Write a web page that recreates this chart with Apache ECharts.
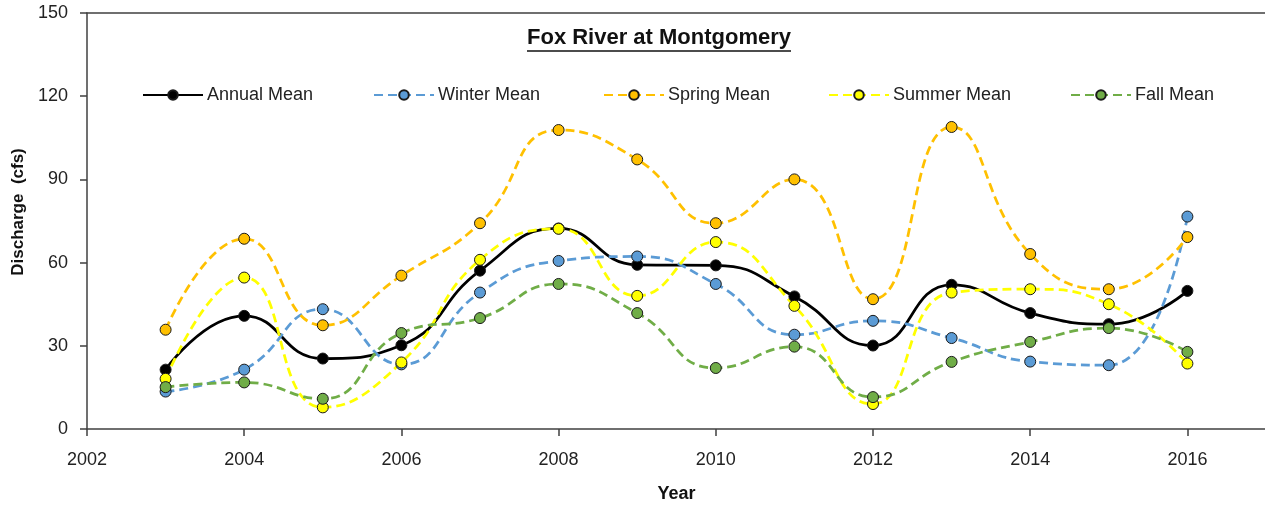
<!DOCTYPE html>
<html>
<head>
<meta charset="utf-8">
<script src="https://cdn.jsdelivr.net/npm/echarts@6/dist/echarts.min.js"></script>
<style>
html,body{margin:0;padding:0;background:#fff;}
#chart{width:1265px;height:508px;}
</style>
</head>
<body>
<div id="chart"></div>
<script>
//年份
var years=[2003,2004,2005,2006,2007,2008,2009,2010,2011,2012,2013,2014,2015,2016];
//各序列数值（cfs）
var annualMean=[21.4,40.8,25.4,30.2,57.1,72.3,59.2,59.0,47.8,30.1,52.0,41.8,37.8,49.8];
var winterMean=[13.5,21.4,43.2,23.3,49.2,60.6,62.2,52.3,34.0,39.0,32.8,24.3,23.0,76.6];
var springMean=[35.8,68.6,37.4,55.3,74.2,107.8,97.2,74.2,90.0,46.8,108.9,63.1,50.4,69.2];
var summerMean=[18.1,54.6,7.8,24.0,61.0,72.2,48.0,67.4,44.4,9.0,49.2,50.4,45.0,23.6];
var fallMean=[15.1,16.8,10.9,34.6,40.0,52.3,41.8,22.0,29.7,11.5,24.2,31.4,36.4,27.8];
var seriesNames=['Annual Mean','Winter Mean','Spring Mean','Summer Mean','Fall Mean'];
var seriesColors=['#000000','#5B9BD5','#FFC000','#FFFF00','#70AD47'];
var xTicks=[2002,2004,2006,2008,2010,2012,2014,2016];
var yTicks=[0,30,60,90,120,150];

var font='"Liberation Sans", Arial, sans-serif';

function pairs(vals){
	var out=[];
	for(var i=0;i<years.length;i++){
		out.push([years[i],vals[i]]);
	}
	return out;
}

function makeSeries(idx,vals){
	var solid=(idx==0);
	return {
		name:seriesNames[idx],
		type:'line',
		smooth:0.5,
		data:pairs(vals),
		symbol:'circle',
		symbolSize:11,
		color:seriesColors[idx],
		lineStyle:{
			color:seriesColors[idx],
			width:2.75,
			type:solid?'solid':[9,5]
		},
		itemStyle:{
			color:seriesColors[idx],
			borderColor:'#1a1a1a',
			borderWidth:1
		},
		emphasis:{disabled:true}
	};
}

//图例位置（每项单独一个legend）
var legendLeft=[142,373,603,828,1070];
var legends=[];
for(var i=0;i<seriesNames.length;i++){
	legends.push({
		data:[seriesNames[i]],
		left:legendLeft[i],
		top:86,
		padding:0,
		itemWidth:60,
		itemHeight:12,
		itemGap:0,
		selectedMode:false,
		textStyle:{fontFamily:font,fontSize:18,color:'#222',padding:[0,0,0,-1]}
	});
}

var axisColor='#404040';
var myChart=echarts.init(document.getElementById('chart'));
var option={
	animation:false,
	backgroundColor:'#fff',
	title:{
		text:'Fox River at Montgomery',
		left:527,
		top:27,
		padding:0,
		textStyle:{fontFamily:font,fontSize:22,fontWeight:'bold',color:'#111'}
	},
	graphic:[
		{type:'line',shape:{x1:527,y1:51,x2:791,y2:51},style:{stroke:'#111',lineWidth:1.5}}
	],
	legend:legends,
	grid:{left:87,right:-1,top:13,bottom:79,outerBoundsMode:'none',containLabel:false},
	xAxis:[
		{
			type:'value',
			min:2002,
			max:2017,
			interval:2,
			name:'Year',
			nameLocation:'middle',
			nameGap:56,
			nameTextStyle:{fontFamily:font,fontSize:18,fontWeight:'bold',color:'#111'},
			axisLine:{show:true,onZero:false,lineStyle:{color:axisColor,width:1.5}},
			axisTick:{show:true,length:7,inside:false,lineStyle:{color:axisColor,width:1.5}},
			axisLabel:{
				margin:22,
				fontFamily:font,fontSize:18,color:'#222',
				formatter:function(v){return xTicks.indexOf(v)>=0?String(v):'';}
			},
			splitLine:{show:false}
		},
		{
			type:'value',
			position:'top',
			min:2002,
			max:2017,
			axisLine:{show:true,onZero:false,lineStyle:{color:axisColor,width:1.5}},
			axisTick:{show:false},
			axisLabel:{show:false},
			splitLine:{show:false}
		}
	],
	yAxis:{
		type:'value',
		min:0,
		max:150,
		interval:30,
		name:'Discharge  (cfs)',
		nameLocation:'middle',
		nameGap:58,
		nameTextStyle:{fontFamily:font,fontSize:17,fontWeight:'bold',color:'#111',padding:[0,0,0,18]},
		axisLine:{show:true,lineStyle:{color:axisColor,width:1.5}},
		axisTick:{show:true,length:7,lineStyle:{color:axisColor,width:1.5}},
		axisLabel:{
			margin:19,
			fontFamily:font,fontSize:18,color:'#222',
			formatter:function(v){return yTicks.indexOf(v)>=0?String(v):'';}
		},
		splitLine:{show:false}
	},
	series:[
		makeSeries(0,annualMean),
		makeSeries(1,winterMean),
		makeSeries(2,springMean),
		makeSeries(3,summerMean),
		makeSeries(4,fallMean)
	]
};
myChart.setOption(option);
</script>
</body>
</html>
